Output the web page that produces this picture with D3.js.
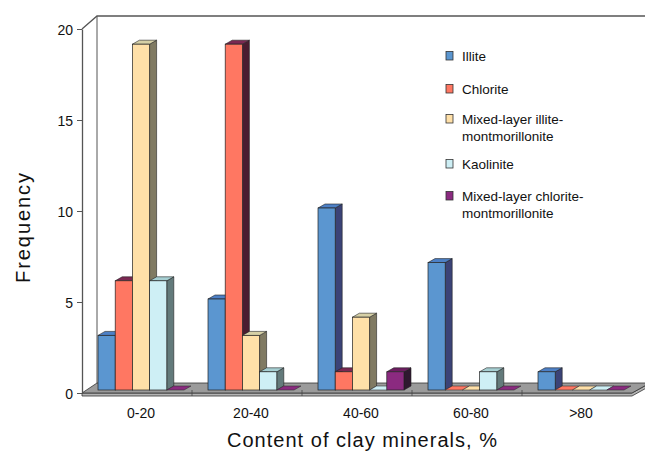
<!DOCTYPE html>
<html>
<head>
<meta charset="utf-8">
<script src="https://cdn.jsdelivr.net/npm/d3@7/dist/d3.min.js"></script>
<style>
  html, body { margin: 0; padding: 0; background: #fff; }
  svg { display: block; font-family: "Liberation Sans", Arial, sans-serif; }
</style>
</head>
<body>
<svg id="chart" width="645" height="452"></svg>
<script>
// Clay mineral content classes (%)
const categories = ["0-20", "20-40", "40-60", "60-80", ">80"];

// Mineral series (legend order)
const seriesNames = [
  "Illite",
  "Chlorite",
  "Mixed-layer illite-montmorillonite",
  "Kaolinite",
  "Mixed-layer chlorite-montmorillonite"
];

// Frequency per content class
const illite     = [3, 5, 10, 7, 1];
const chlorite   = [6, 19, 1, 0, 0];
const mixedIM    = [19, 3, 4, 0, 0];
const kaolinite  = [6, 1, 0, 1, 0];
const mixedCM    = [0, 0, 1, 0, 0];

const yTicks = [0, 5, 10, 15, 20];

const seriesValues = [illite, chlorite, mixedIM, kaolinite, mixedCM];

// face colours: front, side, top
const palette = [
  { front: "#5b96d0", side: "#3b4377", top: "#4d80c6" },
  { front: "#ff7762", side: "#4a1c30", top: "#7b2852" },
  { front: "#ffe0a8", side: "#807a62", top: "#d6d0a6" },
  { front: "#ceeff5", side: "#637a7b", top: "#a6cfd2" },
  { front: "#8b2a80", side: "#2f1830", top: "#6d1d61" }
];

const svg = d3.select("#chart");

// front plane of the plot
const x0 = 82, x1 = 632;
const x = d3.scaleBand().domain(categories).range([x0, x1]);
const sub = d3.scaleBand().domain(seriesNames).range([16, 102]);
const y = d3.scaleLinear().domain([0, 20]).range([393, 29]);

// perspective offsets
const wallDX = 15, wallDY = -10;   // depth of floor / walls
const barDX = 7, barDY = -4;       // depth of a single bar
const barLift = -3;                // bars sit slightly behind the front edge

const lineCol = "#555";

// back wall and left wall outlines
const backTop = y(20) + wallDY - 3;
svg.append("path")
  .attr("d", `M${x0},${y(20)} L${x0 + wallDX},${backTop} L645,${backTop}`)
  .attr("fill", "none").attr("stroke", lineCol).attr("stroke-width", 1.3);
svg.append("line")
  .attr("x1", x0 + wallDX).attr("x2", x0 + wallDX)
  .attr("y1", backTop).attr("y2", y(0) + wallDY)
  .attr("stroke", lineCol).attr("stroke-width", 1);

// floor slab
const fy = y(0);
svg.append("path")
  .attr("d", `M${x0},${fy} L${x1},${fy} L${x1 + 18},${fy + wallDY} L${x1 + 18},${fy + wallDY + 3} L${x1},${fy + 3} L${x0},${fy + 3} Z`)
  .attr("fill", "#b4b4b4").attr("stroke", "#333").attr("stroke-width", 0.8);
svg.append("path")
  .attr("d", `M${x0},${fy} L${x0 + wallDX},${fy + wallDY} L${x1 + 18},${fy + wallDY} L${x1},${fy} Z`)
  .attr("fill", "#9b9b9b").attr("stroke", "#333").attr("stroke-width", 0.8);

// category dividers on the floor edge
svg.append("g").selectAll("line")
  .data(categories.slice(1))
  .join("line")
  .attr("x1", d => x(d)).attr("x2", d => x(d))
  .attr("y1", fy + wallDY * 0.3).attr("y2", fy + 3)
  .attr("stroke", "#444").attr("stroke-width", 0.8);

// y axis on the front-left edge
const yAxis = d3.axisLeft(y).tickValues(yTicks).tickSize(5).tickPadding(4).tickSizeOuter(0);
const gy = svg.append("g").attr("transform", `translate(${x0},0)`).call(yAxis);
gy.select(".domain").attr("stroke", lineCol).attr("stroke-width", 1.3);
gy.selectAll(".tick line").attr("stroke", lineCol);
gy.selectAll(".tick text")
  .attr("font-size", 14).attr("fill", "#111")
  .attr("font-family", "Liberation Sans, Arial, sans-serif")
  .attr("dy", "0.4em");

// bars
const base = y(0) + barLift;
const yb = v => y(v) + barLift;
const bars = [];
seriesValues.forEach((vals, si) => {
  vals.forEach((v, ci) => {
    bars.push({ si, ci, v, x: x(categories[ci]) + sub(seriesNames[si]), w: sub.bandwidth() });
  });
});

const gBars = svg.append("g");
bars.forEach(b => {
  const c = palette[b.si];
  const top = yb(b.v);
  const g = gBars.append("g");
  if (b.v > 0) {
    // side face
    g.append("path")
      .attr("d", `M${b.x + b.w},${top} L${b.x + b.w + barDX},${top + barDY} L${b.x + b.w + barDX},${base + barDY} L${b.x + b.w},${base} Z`)
      .attr("fill", c.side).attr("stroke", "#222").attr("stroke-width", 0.6);
    // top face
    g.append("path")
      .attr("d", `M${b.x},${top} L${b.x + barDX},${top + barDY} L${b.x + b.w + barDX},${top + barDY} L${b.x + b.w},${top} Z`)
      .attr("fill", c.top).attr("stroke", "#222").attr("stroke-width", 0.6);
    // front face
    g.append("rect")
      .attr("x", b.x).attr("y", top)
      .attr("width", b.w).attr("height", base - top)
      .attr("fill", c.front).attr("stroke", "#222").attr("stroke-width", 0.7);
  } else {
    // zero frequency: flat footprint on the floor
    g.append("path")
      .attr("d", `M${b.x},${base} L${b.x + barDX},${base + barDY} L${b.x + b.w + barDX},${base + barDY} L${b.x + b.w},${base} Z`)
      .attr("fill", c.front).attr("stroke", "#333").attr("stroke-width", 0.6);
  }
});

// category labels
svg.append("g").selectAll("text")
  .data(categories)
  .join("text")
  .attr("x", d => x(d) + x.bandwidth() / 2 + 4)
  .attr("y", 418)
  .attr("text-anchor", "middle")
  .attr("font-size", 14).attr("fill", "#111")
  .text(d => d);

// axis titles
svg.append("text")
  .attr("x", 362).attr("y", 447)
  .attr("text-anchor", "middle")
  .attr("font-size", 20).attr("fill", "#111")
  .attr("textLength", 270).attr("lengthAdjust", "spacing")
  .text("Content of clay minerals, %");

svg.append("text")
  .attr("transform", "translate(30,228) rotate(-90)")
  .attr("text-anchor", "middle")
  .attr("font-size", 20).attr("fill", "#111")
  .attr("textLength", 110).attr("lengthAdjust", "spacing")
  .text("Frequency");

// legend
const legendLines = [
  ["Illite"],
  ["Chlorite"],
  ["Mixed-layer illite-", "montmorillonite"],
  ["Kaolinite"],
  ["Mixed-layer chlorite-", "montmorillonite"]
];
const legendY = [61, 94, 124, 169, 201];
const gl = svg.append("g");
seriesNames.forEach((name, i) => {
  gl.append("rect")
    .attr("x", 446).attr("y", legendY[i] - 9.5)
    .attr("width", 7).attr("height", 8.5)
    .attr("fill", palette[i].front).attr("stroke", "#333").attr("stroke-width", 0.8);
  const t = gl.append("text")
    .attr("x", 462).attr("y", legendY[i])
    .attr("font-size", 13.5).attr("fill", "#111");
  legendLines[i].forEach((ln, k) => {
    t.append("tspan").attr("x", 462).attr("dy", k === 0 ? 0 : 16.5).text(ln);
  });
});
</script>
</body>
</html>
